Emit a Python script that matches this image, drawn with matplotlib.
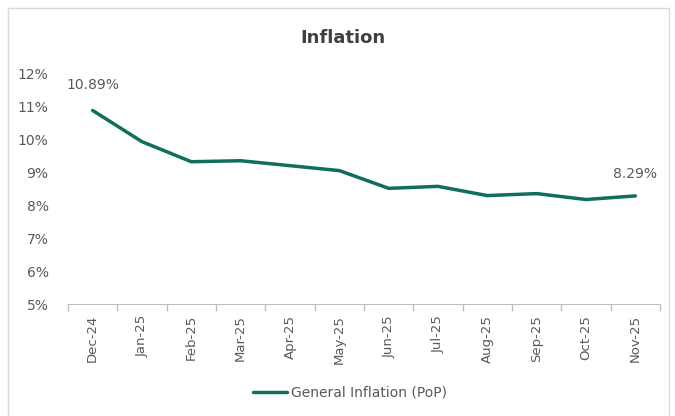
import matplotlib.pyplot as plt
import matplotlib.patches as patches
import numpy as np

months = ['Dec-24', 'Jan-25', 'Feb-25', 'Mar-25', 'Apr-25', 'May-25',
          'Jun-25', 'Jul-25', 'Aug-25', 'Sep-25', 'Oct-25', 'Nov-25']
inflation = [10.89, 9.94, 9.33, 9.36, 9.21, 9.06, 8.52, 8.58, 8.30, 8.36, 8.18, 8.29]
yticks = [5, 6, 7, 8, 9, 10, 11, 12]

line_color = '#0F6E5C'
text_color = '#595959'

fig = plt.figure(figsize=(6.75, 4.16), dpi=100)
fig.patches.append(patches.Rectangle((8 / 675, -0.05), 661 / 675, 1.05 - 8 / 416,
                                     transform=fig.transFigure, fill=False,
                                     edgecolor='#D9D9D9', linewidth=1))
ax = fig.add_axes([68 / 675, 1 - 304 / 416, 592 / 675, (304 - 74) / 416])

x = np.arange(len(months))
ax.plot(x, inflation, color=line_color, linewidth=2.5, solid_capstyle='round',
        label='General Inflation (PoP)')

ax.set_xlim(-0.5, len(months) - 0.5)
ax.set_ylim(5, 12)
ax.set_yticks(yticks)
ax.set_yticklabels([f'{v}%' for v in yticks], fontsize=10, color=text_color)
ax.tick_params(axis='y', length=0, pad=14)

ax.set_xticks(x)
ax.set_xticklabels(months, rotation=90, fontsize=9.5, color=text_color)
ax.tick_params(axis='x', which='major', length=0, pad=8)
ax.set_xticks(np.arange(-0.5, len(months), 1), minor=True)
ax.tick_params(axis='x', which='minor', length=5, color='#BFBFBF', width=1)

for s in ['top', 'right', 'left']:
    ax.spines[s].set_visible(False)
ax.spines['bottom'].set_color('#BFBFBF')

# first and last labels
ax.annotate(f'{inflation[0]:.2f}%', (x[0], inflation[0]), xytext=(0, 13),
            textcoords='offset points', ha='center', va='bottom',
            fontsize=10, color=text_color)
ax.annotate(f'{inflation[-1]:.2f}%', (x[-1], inflation[-1]), xytext=(0, 11),
            textcoords='offset points', ha='center', va='bottom',
            fontsize=10, color=text_color)

fig.text(343 / 675, 1 - 38 / 416, 'Inflation', ha='center', va='center',
         fontsize=13, fontweight='bold', color='#404040')

fig.legend(loc='center', bbox_to_anchor=(350 / 675, 1 - 393 / 416), frameon=False,
           fontsize=10, labelcolor=text_color, handlelength=2.4, handletextpad=0.3)

fig.savefig('out.png', dpi=100)
